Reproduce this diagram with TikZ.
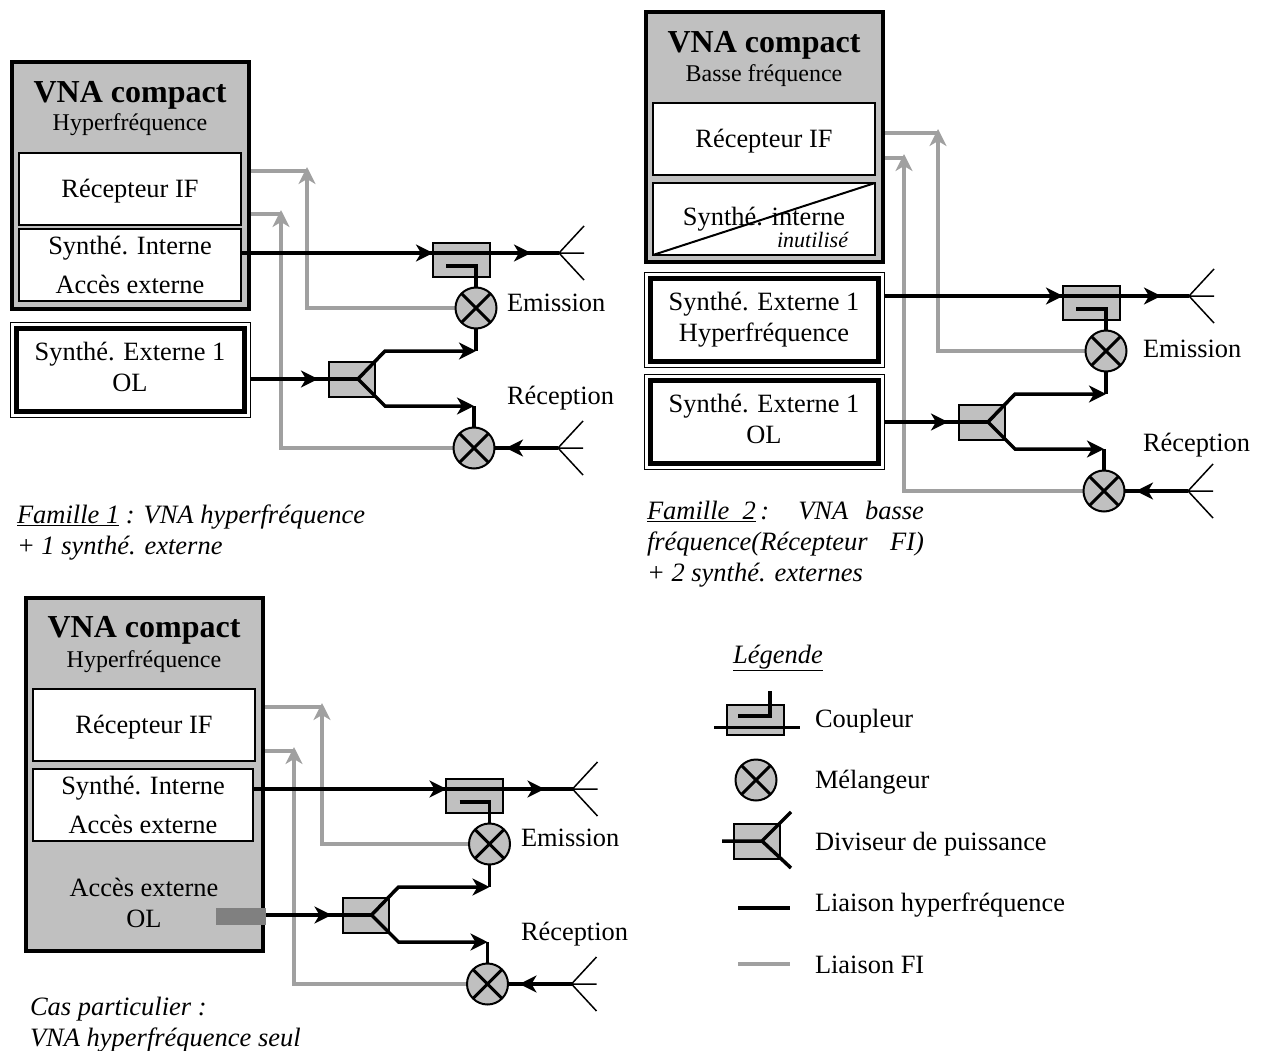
\documentclass[tikz,border=0pt]{standalone}
\usepackage{fontspec}
\setmainfont{Liberation Serif}
\usetikzlibrary{arrows.meta}
\usetikzlibrary{backgrounds}
\usetikzlibrary{fit}
\usetikzlibrary{positioning}
\definecolor{boxgray}{HTML}{C0C0C0}
\definecolor{ifgray}{HTML}{A0A0A0}
\definecolor{accgray}{HTML}{808080}
\tikzset{
	every node/.style={inner sep=0pt, outer sep=0pt},
	antenna/.pic={
		\draw[line width=1.5pt] (0pt,0pt) -- (25pt,27pt) (0pt,0pt) -- (25pt,-27pt) (0pt,0pt) -- (25pt,0pt);
	},
}
% chaine RF : coupleur, melangeurs, diviseur, antennes
\newcommand{\rfchain}[5]{
	\begin{scope}[shift={(#2,#3)}]
		\node (cpl#1) [coupler] at (461,260) {};
		\node (mixtx#1) [mixer] at (476,308) {};
		\node (mixrx#1) [mixer] at (474,448) {};
		\node (div#1) [divider] at (352,379) {};
		\coordinate (cplin#1) at (433,253);
		\coordinate (cplc#1) at (446,266);
		\coordinate (cpltip#1) at (531,253);
		\coordinate (anttx#1) at (559,253);
		\coordinate (antrx#1) at (558,448);
		\coordinate (rxtip#1) at (506,448);
		\coordinate (divtip#1) at (318,379);
		\coordinate (divapex#1) at (358,379);
		\coordinate (divup#1) at (385,351);
		\coordinate (divdn#1) at (385,406);
		\coordinate (divupend#1) at (476,351);
		\coordinate (divdnend#1) at (474,406);
		\draw[hfline] (#4.east |- cplin#1) -- (anttx#1);
		\draw[hfarrow] (#4.east |- cplin#1) -- (cplin#1);
		\draw[hfarrow] (cplin#1) -- (cpltip#1);
		\draw[hfline] (cplc#1) -| (mixtx#1.north);
		\draw[hfline] (#5.east |- divapex#1) -- (divapex#1);
		\draw[hfarrow] (#5.east |- divapex#1) -- (divtip#1);
		\draw[hfarrow] (divapex#1) -- (divup#1) -- (divupend#1);
		\draw[hfarrow] (divapex#1) -- (divdn#1) -- (divdnend#1);
		\draw[hfline] (mixtx#1.south) -- (divupend#1);
		\draw[hfline] (divdnend#1) -- (mixrx#1.north);
		\draw[hfline] (antrx#1) -- (mixrx#1.east);
		\draw[hfarrow] (antrx#1) -- (rxtip#1);
		\pic at (anttx#1) {antenna};
		\pic at (antrx#1) {antenna};
	\end{scope}
}
% liaison FI : melangeur vers colonne, puis amorce depuis le VNA
\newcommand{\iflink}[5]{
	\coordinate (ifstub#1) at (#4,#5);
	\coordinate (iftip#1) at ([yshift=4pt]ifstub#1);
	\begin{pgfonlayer}{background}
		\draw[ifarrow] (#3.west) -| (iftip#1);
		\draw[ifline] (#2.east |- ifstub#1) -- (ifstub#1);
	\end{pgfonlayer}
}
\begin{document}
\begin{tikzpicture}[
		x=1pt, y=-1pt,
		node distance=38pt,
		txt/.style={font=\fontsize{26.4}{31}\selectfont, text height=18pt, text depth=6pt},
		capt/.style={font=\fontsize{26.5}{31}\selectfont\itshape, align=left},
		vnabox/.style={draw, line width=4pt, fill=boxgray, minimum width=237pt},
		vnatitle/.style={font=\fontsize{32}{36}\selectfont\bfseries, text height=22pt, text depth=7pt},
		vnasub/.style={font=\fontsize{24}{28}\selectfont, text height=17pt, text depth=5pt},
		innerbox/.style={draw, line width=2pt, fill=white, minimum width=222pt, minimum height=72pt, font=\fontsize{26.4}{31}\selectfont},
		recbox/.style={innerbox, text height=23pt, text depth=6pt},
		synbox/.style={innerbox, align=center},
		extbox/.style={draw, line width=5pt, fill=white, minimum width=228pt, minimum height=83pt, align=center, text depth=6pt, font=\fontsize{26.4}{31}\selectfont},
		extframe/.style={draw, line width=1pt, inner sep=6pt},
		coupler/.style={draw, line width=2pt, fill=boxgray, minimum width=57pt, minimum height=34pt},
		divider/.style={draw, line width=2pt, fill=boxgray, minimum width=46pt, minimum height=35pt},
		mixer/.style={circle, draw, line width=2pt, fill=boxgray, minimum size=41pt,
			path picture={\draw[line width=3pt] (path picture bounding box.north west) -- (path picture bounding box.south east) (path picture bounding box.north east) -- (path picture bounding box.south west);}},
		hfline/.style={line width=3.5pt},
		hfarrow/.style={hfline, -{Stealth[length=17pt,width=17pt,inset=5pt]}},
		ifline/.style={line width=3.5pt, ifgray},
		ifarrow/.style={ifline, -{Stealth[length=17pt,width=17pt,inset=5pt]}},
	]
	\useasboundingbox (0,0) rectangle (1261,1051);

	% famille 1
	\node (vna1) [vnabox, minimum height=247pt] at (130,185.5) {};
	\node (tit1) [vnatitle, below=19pt of vna1.north] {VNA compact};
	\node (sub1) [vnasub, below=4pt of tit1] {Hyperfréquence};
	\node (rec1) [recbox, below=91pt of vna1.north] {Récepteur IF};
	\node (syn1) [synbox, below=4pt of rec1] {Synthé. Interne\\[8pt]Accès externe};
	\node (ext1) [extbox, below=19pt of vna1] {Synthé. Externe 1\\OL};
	\node (frm1) [extframe, fit=(ext1)] {};
	\rfchain{1}{0}{0}{syn1}{frm1}
	\iflink{a1}{vna1}{mixtx1}{307}{171}
	\iflink{b1}{vna1}{mixrx1}{281}{214}
	\node (em1) [txt, anchor=west] at (507,305) {Emission};
	\node (re1) [txt, anchor=west] at (507,398) {Réception};
	\node (cap1) [capt, anchor=north west] at (17,505) {\underline{Famille 1} : VNA hyperfréquence\\+ 1 synthé. externe};

	% famille 2
	\node (vna2) [vnabox, minimum height=250pt] at (764,137) {};
	\node (tit2) [vnatitle, below=19pt of vna2.north] {VNA compact};
	\node (sub2) [vnasub, below=5pt of tit2] {Basse fréquence};
	\node (rec2) [recbox, below=91pt of vna2.north] {Récepteur IF};
	\node (syn2) [synbox, below=8pt of rec2] {Synthé. interne};
	\draw[line width=2pt] (syn2.south west) -- (syn2.north east);
	\node (inu2) [font=\fontsize{22}{24}\selectfont\itshape, above left=7pt and 27pt of syn2.south east] {inutilisé};
	\node (ext2) [extbox, below=16pt of vna2] {Synthé. Externe 1\\Hyperfréquence};
	\node (frm2) [extframe, fit=(ext2)] {};
	\node (ol2) [extbox, below=19pt of ext2] {Synthé. Externe 1\\OL};
	\node (frmol2) [extframe, fit=(ol2)] {};
	\rfchain{2}{630}{43}{frm2}{frmol2}
	\iflink{a2}{vna2}{mixtx2}{938}{133}
	\iflink{b2}{vna2}{mixrx2}{904}{158}
	\node (em2) [txt, anchor=west] at (1143,351) {Emission};
	\node (re2) [txt, anchor=west] at (1143,445) {Réception};
	\node (cap2) [capt, anchor=north west] at (647,501) {\makebox[277pt][s]{\underline{Famille\ \ 2}\,: VNA basse}\\\makebox[277pt][s]{fréquence(Récepteur FI)}\\+ 2 synthé. externes};

	% cas particulier
	\node (vna3) [vnabox, minimum height=353pt] at (144,774.5) {};
	\node (tit3) [vnatitle, below=17pt of vna3.north] {VNA compact};
	\node (sub3) [vnasub, below=6pt of tit3] {Hyperfréquence};
	\node (rec3) [recbox, below=91pt of vna3.north] {Récepteur IF};
	\node (syn3) [synbox, below=8pt of rec3, xshift=-1pt, minimum width=220pt] {Synthé. Interne\\[8pt]Accès externe};
	\node (acc3) [align=center, font=\fontsize{26.4}{31}\selectfont] at (144,903) {Accès externe\\OL};
	\node (bar3) [fill=accgray, minimum width=50pt, minimum height=17pt] at (241,916) {};
	\rfchain{3}{13.5}{536}{syn3}{bar3}
	\iflink{a3}{vna3}{mixtx3}{322}{707}
	\iflink{b3}{vna3}{mixrx3}{294}{751}
	\node (em3) [txt, anchor=west] at (521,840) {Emission};
	\node (re3) [txt, anchor=west] at (521,934) {Réception};
	\node (cap3) [capt, anchor=north west] at (30,997) {Cas particulier :\\VNA hyperfréquence seul};

	% legende
	\node (lgt) [capt] at (778,658) {\underline{Légende}};
	\node (lgcpl) [txt, anchor=west] at (815,721) {Coupleur};
	\node (lgmix) [txt, below=37.5pt of lgcpl.south west, anchor=north west] {Mélangeur};
	\node (lgdiv) [txt, below=37.5pt of lgmix.south west, anchor=north west] {Diviseur de puissance};
	\node (lghf) [txt, below=37.5pt of lgdiv.south west, anchor=north west] {Liaison hyperfréquence};
	\node (lgfi) [txt, below=37.5pt of lghf.south west, anchor=north west] {Liaison FI};

	\node (symcpl) [coupler, minimum height=30pt] at (755.5,720) {};
	\coordinate (symcpla) at (714,727);
	\coordinate (symcplb) at (800,727);
	\coordinate (symcplc) at (738,716);
	\coordinate (symcpld) at (770,691);
	\draw[line width=3pt] (symcpla) -- (symcplb);
	\draw[hfline] (symcplc) -| (symcpld);
	\node (symmix) [mixer] at (756,780) {};
	\node (symdiv) [divider] at (756.5,841) {};
	\coordinate (symdiva) at (722,841);
	\coordinate (symdivb) at (762,841);
	\coordinate (symdivc) at (791,812);
	\coordinate (symdivd) at (791,868);
	\draw[hfline] (symdiva) -- (symdivb) (symdivc) -- (symdivb) -- (symdivd);
	\coordinate (symhfa) at (738,908);
	\coordinate (symhfb) at (790,908);
	\draw[hfline] (symhfa) -- (symhfb);
	\coordinate (symfia) at (738,964);
	\coordinate (symfib) at (790,964);
	\draw[ifline] (symfia) -- (symfib);
\end{tikzpicture}
\end{document}
